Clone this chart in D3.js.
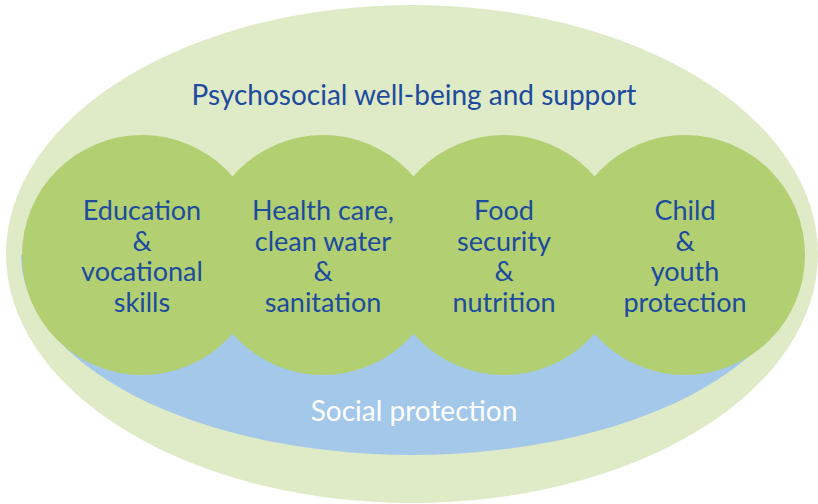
<!DOCTYPE html>
<html>
<head>
<meta charset="utf-8">
<script src="https://cdn.jsdelivr.net/npm/d3@7"></script>
<style>
  html, body { margin: 0; padding: 0; background: #fff; }
  svg { display: block; }
  text { font-family: Lato, "Open Sans", sans-serif; }
</style>
</head>
<body>
<div id="chart"></div>
<script>
// data
const pillars = ['education', 'health', 'food', 'child']
const pillarLabels = [
  ['Education', '&', 'vocational', 'skills'],
  ['Health care,', 'clean water', '&', 'sanitation'],
  ['Food', 'security', '&', 'nutrition'],
  ['Child', '&', 'youth', 'protection'],
]
const outerLabel = 'Psychosocial well-being and support'
const baseLabel = 'Social protection'

const width = 818
const height = 504

const svg = d3
  .create('svg')
  .attr('width', width)
  .attr('height', height)

// x position of each pillar circle
const xScale = d3.scalePoint().domain(pillars).range([142, 685])
const cy = 255
const r = 120

// outer ellipse
svg
  .append('ellipse')
  .attr('cx', 412)
  .attr('cy', 254)
  .attr('rx', 406)
  .attr('ry', 249)
  .attr('fill', '#dfeac7')

// blue base, lower half of an ellipse
const bx = 412
const brx = 391
const bry = 200
svg
  .append('path')
  .attr('d', `M${bx - brx},${cy} A${brx},${bry} 0 0 0 ${bx + brx},${cy} Z`)
  .attr('fill', '#a3c8ea')

// pillar circles first, labels on top so nothing gets covered
svg
  .append('g')
  .selectAll('circle')
  .data(pillars)
  .join('circle')
  .attr('cx', d => xScale(d))
  .attr('cy', cy)
  .attr('r', r)
  .attr('fill', '#b2cf72')

const lineHeight = 30.5
svg
  .append('g')
  .selectAll('text')
  .data(pillars)
  .join('text')
  .attr('transform', d => `translate(${xScale(d)}, ${cy})`)
  .attr('text-anchor', 'middle')
  .attr('fill', '#1d4b9d')
  .attr('font-size', 27)
  .selectAll('tspan')
  .data((d, i) => pillarLabels[i])
  .join('tspan')
  .attr('x', 0)
  .attr('y', (d, i, nodes) => (i - (nodes.length - 1) / 2) * lineHeight + 11)
  .text(d => d)

svg
  .append('text')
  .attr('x', 414)
  .attr('y', 105)
  .attr('text-anchor', 'middle')
  .attr('fill', '#1d4b9d')
  .attr('font-size', 28)
  .text(outerLabel)

svg
  .append('text')
  .attr('x', 414)
  .attr('y', 421)
  .attr('text-anchor', 'middle')
  .attr('fill', '#ffffff')
  .attr('font-size', 28)
  .text(baseLabel)

document.getElementById('chart').appendChild(svg.node())
</script>
</body>
</html>
